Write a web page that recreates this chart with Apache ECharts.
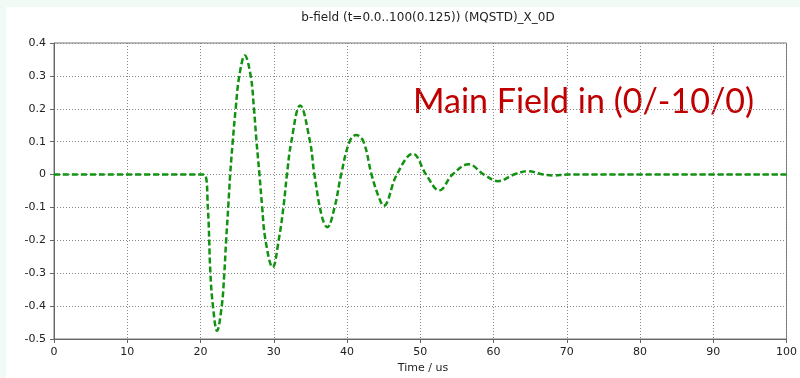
<!DOCTYPE html>
<html>
<head>
<meta charset="utf-8">
<script src="https://cdn.jsdelivr.net/npm/echarts@6/dist/echarts.min.js"></script>
<style>html,body{margin:0;padding:0;background:#f2faf6;}#c{width:800px;height:378px;}</style>
</head>
<body>
<div id="c"></div>
<script>
// Data
const chartTitle = 'b-field (t=0.0..100(0.125)) (MQSTD)_X_0D';
const xAxisName = 'Time / us';
const annotation = 'Main Field in (0/-10/0)';
const timeUs = [0, 20.5, 21.0, 21.35, 21.7, 22.25, 22.9, 23.25, 23.5, 23.8, 24.05, 24.4, 24.8, 25.3, 26.05,
  26.85, 27.3, 27.65, 28.05, 28.4, 28.85, 29.85, 30.7, 31.35, 31.8, 32.4, 33.6, 34.95, 35.55, 36.6, 37.3,
  38.3, 39.2, 40.35, 41.25, 42.25, 43.35, 44.3, 45.0, 46.8, 49.0, 50.8, 52.6, 54.4, 56.6, 58.7, 60.6,
  62.8, 64.7, 66.8, 68.2, 70.0, 100];
const bField = [0, 0, -0.1, -0.3, -0.4, -0.475, -0.4, -0.3, -0.2, -0.094, 0, 0.1, 0.2, 0.3, 0.362,
  0.3, 0.2, 0.1, 0, -0.094, -0.196, -0.282, -0.196, -0.094, 0, 0.1, 0.21, 0.1, 0, -0.13, -0.16,
  -0.1, 0, 0.1, 0.12, 0.1, 0, -0.066, -0.095, 0, 0.063, 0, -0.048, 0, 0.031, 0, -0.02,
  0, 0.01, 0, -0.003, 0, 0];
const xTicks = {min: 0, max: 100, interval: 10};
const yTicks = {min: -0.5, max: 0.4, interval: 0.1};

const chart = echarts.init(document.getElementById('c'), null, {renderer: 'canvas'});
const labelFont = {fontFamily: 'DejaVu Sans', fontSize: 11, color: '#222'};
const series = timeUs.map((t, i) => [t, bField[i]]);

chart.setOption({
  backgroundColor: '#f2faf6',
  animation: false,
  grid: {left: 54, right: 8, top: 43, bottom: 39, show: true, borderColor: '#777', borderWidth: 1, backgroundColor: 'transparent'},
  graphic: [
    {type: 'rect', z: -10, silent: true, shape: {x: 6, y: 7, width: 800, height: 380}, style: {fill: '#ffffff'}},
    {type: 'text', x: 428, y: 18, style: {text: chartTitle, textAlign: 'center', textVerticalAlign: 'middle', font: '12px "DejaVu Sans"', fill: '#222'}},
    {type: 'text', x: 423, y: 368, style: {text: xAxisName, textAlign: 'center', textVerticalAlign: 'middle', font: '11px "DejaVu Sans"', fill: '#222'}},
    {type: 'text', x: 413, y: 102, style: {text: annotation, textAlign: 'left', textVerticalAlign: 'middle', font: '34px Lato', fill: '#c00000'}}
  ],
  xAxis: {
    type: 'value', min: xTicks.min, max: xTicks.max, interval: xTicks.interval,
    axisLine: {show: true, onZero: false, lineStyle: {color: '#666', width: 1}},
    axisTick: {show: true, inside: false, length: 4, lineStyle: {color: '#666'}},
    axisLabel: Object.assign({margin: 8}, labelFont),
    splitLine: {show: true, lineStyle: {color: '#888', type: [1, 2], width: 1}}
  },
  yAxis: {
    type: 'value', min: yTicks.min, max: yTicks.max, interval: yTicks.interval,
    axisLine: {show: true, onZero: false, lineStyle: {color: '#666', width: 1}},
    axisTick: {show: true, inside: false, length: 4, lineStyle: {color: '#666'}},
    axisLabel: Object.assign({margin: 8, formatter: v => String(Math.round(v * 10) / 10)}, labelFont),
    splitLine: {show: true, lineStyle: {color: '#888', type: [1, 2], width: 1}}
  },
  series: [{
    type: 'line', data: series, smooth: 0.4, showSymbol: false, symbol: 'none',
    lineStyle: {color: '#119211', width: 2.5, type: [6, 3]}
  }]
});
</script>
</body>
</html>
